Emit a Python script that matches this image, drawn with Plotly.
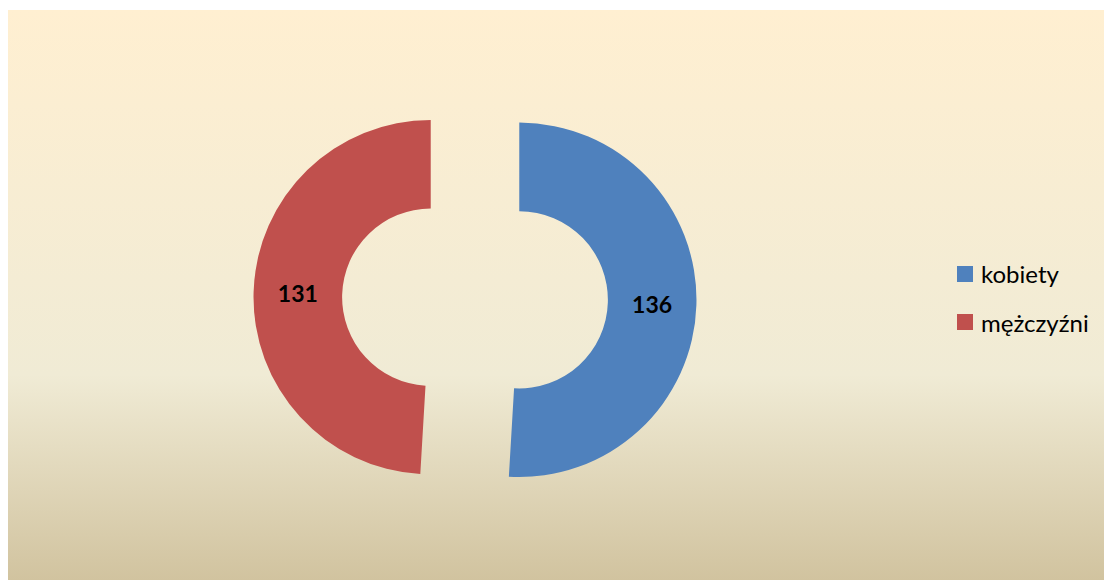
import plotly.graph_objects as go

# ---- data ----
labels = ["kobiety", "mężczyźni"]
values = [136, 131]
colors = ["#4F81BD", "#C0504D"]

W, H = 1112, 581
OFF = 8  # page body margin: window pixel = figure pixel + OFF
FONT = "Lato"


def fx(px):
    return (px - OFF) / W


def fy(py):
    return 1 - (py - OFF) / H


fig = go.Figure()

# background panel with "parchment" gradient (filled scatter on hidden axes, paper-like coords)
px0, px1 = 7, 1110
py_top, py_bot = 10, 580
fig.add_trace(go.Scatter(
    x=[fx(px0), fx(px1), fx(px1), fx(px0), fx(px0)],
    y=[fy(py_bot), fy(py_bot), fy(py_top), fy(py_top), fy(py_bot)],
    mode="lines", line=dict(width=0), fill="toself",
    fillgradient=dict(type="vertical",
                      colorscale=[[0, "#D1C39F"], [0.36, "#F0EBD5"], [1, "#FFEFD1"]]),
    hoverinfo="skip", showlegend=False,
))

fig.add_trace(go.Pie(
    labels=labels, values=values,
    marker=dict(colors=colors, line=dict(width=0)),
    hole=0.5, pull=[0.25, 0.25],
    sort=False, direction="clockwise", rotation=0,
    textinfo="value", textposition="inside", insidetextorientation="horizontal",
    textfont=dict(family=FONT, size=23, color="#000000", weight="bold"),
    domain=dict(x=[fx(175), fx(775)], y=[fy(520), fy(77)]),
    showlegend=False, hoverinfo="label+value",
))

# manual legend
shapes = []
annotations = []
leg_x = 957
leg_y = [274, 322]
for lab, col, yc in zip(labels, colors, leg_y):
    shapes.append(dict(type="rect", xref="paper", yref="paper",
                       x0=fx(leg_x), x1=fx(leg_x + 16),
                       y0=fy(yc + 8), y1=fy(yc - 8),
                       fillcolor=col, line=dict(width=0)))
    annotations.append(dict(text=lab, xref="paper", yref="paper",
                            x=fx(leg_x + 22), y=fy(yc),
                            xanchor="left", yanchor="middle", showarrow=False,
                            font=dict(family=FONT, size=24, color="#000000")))

fig.update_layout(
    width=W, height=H,
    margin=dict(l=0, r=0, t=0, b=0),
    paper_bgcolor="#FFFFFF", plot_bgcolor="rgba(0,0,0,0)",
    xaxis=dict(range=[0, 1], visible=False, fixedrange=True, domain=[0, 1]),
    yaxis=dict(range=[0, 1], visible=False, fixedrange=True, domain=[0, 1]),
    shapes=shapes, annotations=annotations,
)

fig.write_html("out.html")
